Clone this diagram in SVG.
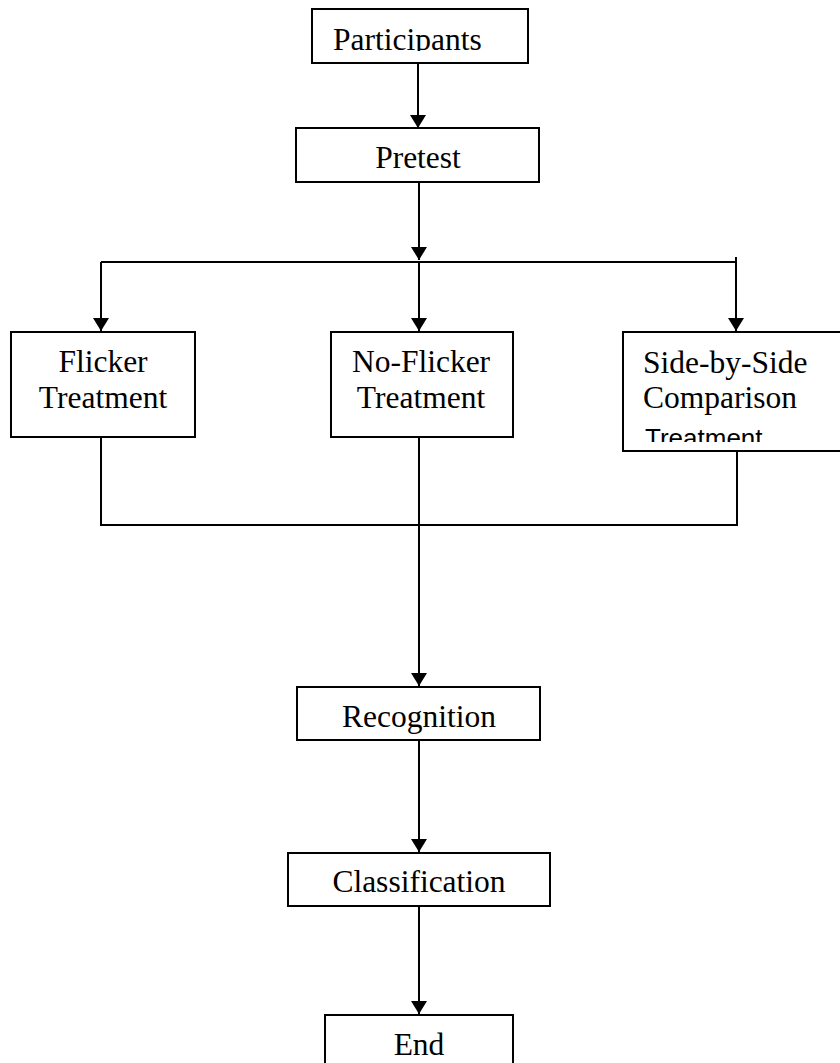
<svg xmlns="http://www.w3.org/2000/svg" width="840" height="1063" viewBox="0 0 840 1063">
<style>
.box{fill:#fff;stroke:#000;stroke-width:2}
.t{font-family:"Liberation Serif","Times New Roman",serif;font-size:31.5px;fill:#000}
.s{font-family:"Liberation Sans",Arial,sans-serif;font-size:26px;fill:#000}
.c{fill:none;stroke:#000;stroke-width:2}
</style>
<defs>
<marker id="ah" viewBox="0 0 13 16" refX="13" refY="8" markerWidth="13" markerHeight="16" markerUnits="userSpaceOnUse" orient="auto">
<path d="M0,0 L13,8 L0,16 Z" fill="#000"/>
</marker>
<clipPath id="cpP"><rect x="300" y="0" width="240" height="51"/></clipPath>
<clipPath id="cpR"><rect x="290" y="680" width="260" height="729"/></clipPath>
<clipPath id="cpS"><rect x="600" y="300" width="240" height="142"/></clipPath>
</defs>
<rect width="840" height="1063" fill="#fff"/>
<g id="connectors">
<line class="c" x1="418" y1="63" x2="418" y2="128" marker-end="url(#ah)"/>
<line class="c" x1="419" y1="182" x2="419" y2="260" marker-end="url(#ah)"/>
<polyline class="c" points="101,262 737,262"/>
<line class="c" x1="101" y1="262" x2="101" y2="331" marker-end="url(#ah)"/>
<line class="c" x1="419" y1="262" x2="419" y2="331" marker-end="url(#ah)"/>
<line class="c" x1="736" y1="257" x2="736" y2="331" marker-end="url(#ah)"/>
<polyline class="c" points="101,437 101,525 737,525 737,451"/>
<line class="c" x1="419" y1="437" x2="419" y2="686" marker-end="url(#ah)"/>
<line class="c" x1="419" y1="740" x2="419" y2="852" marker-end="url(#ah)"/>
<line class="c" x1="419" y1="906" x2="419" y2="1014" marker-end="url(#ah)"/>
</g>
<g id="participants">
<rect class="box" x="312" y="9" width="216" height="54"/>
<text class="t" x="333" y="50" clip-path="url(#cpP)">Participants</text>
</g>
<g id="pretest">
<rect class="box" x="296" y="128" width="243" height="54"/>
<text class="t" x="418" y="168" text-anchor="middle">Pretest</text>
</g>
<g id="flicker">
<rect class="box" x="11" y="332" width="184" height="105"/>
<text class="t" x="103" y="372" text-anchor="middle">Flicker</text>
<text class="t" x="103" y="408" text-anchor="middle">Treatment</text>
</g>
<g id="noflicker">
<rect class="box" x="331" y="332" width="182" height="105"/>
<text class="t" x="421" y="372" text-anchor="middle">No-Flicker</text>
<text class="t" x="421" y="408" text-anchor="middle">Treatment</text>
</g>
<g id="sidebyside">
<rect class="box" x="623" y="332" width="230" height="119"/>
<text class="t" x="643" y="373">Side-by-Side</text>
<text class="t" x="643" y="408">Comparison</text>
<text class="s" x="645" y="447" clip-path="url(#cpS)">Treatment</text>
</g>
<g id="recognition">
<rect class="box" x="297" y="687" width="243" height="53"/>
<text class="t" x="419" y="727" text-anchor="middle" clip-path="url(#cpR)">Recognition</text>
</g>
<g id="classification">
<rect class="box" x="288" y="853" width="262" height="53"/>
<text class="t" x="419" y="892" text-anchor="middle">Classification</text>
</g>
<g id="end">
<rect class="box" x="325" y="1015" width="188" height="60"/>
<text class="t" x="419" y="1055" text-anchor="middle">End</text>
</g>
</svg>
